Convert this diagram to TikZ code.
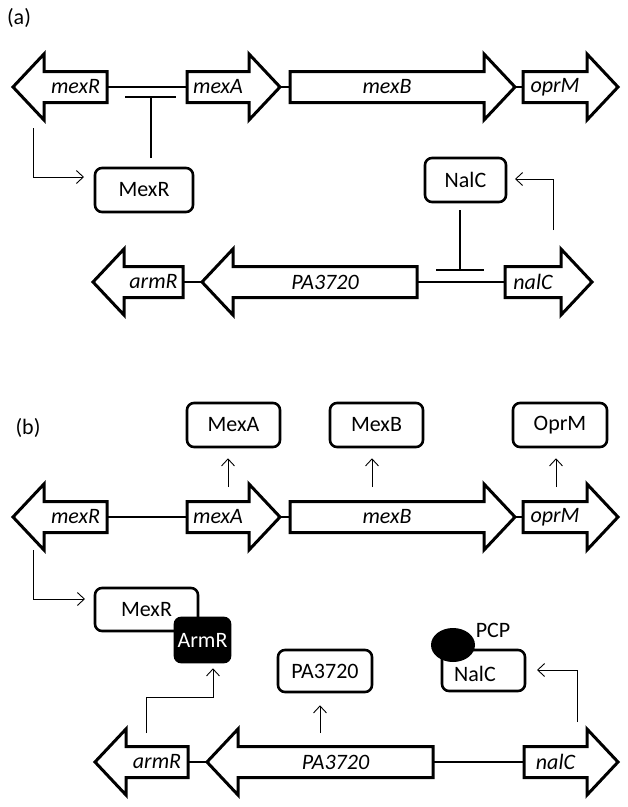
\documentclass[tikz,border=0pt]{standalone}
\usepackage{fontspec}
\setmainfont{Carlito}
\usetikzlibrary{arrows.meta}
\tikzset{
  gene/.style={line width=3pt, fill=white, line join=miter},
  genetext/.style={font=\fontsize{22}{26}\selectfont\itshape, inner sep=0pt},
  dna/.style={line width=2pt},
  prot/.style={draw, line width=2.6pt, rounded corners=7pt, font=\fontsize{22}{26}\selectfont, inner sep=0pt},
  plain/.style={font=\fontsize{22}{26}\selectfont, inner sep=0pt},
  conn/.style={line width=0.9pt, -{Straight Barb[length=7pt,width=13pt,line width=0.9pt]}},
  repr/.style={line width=2pt},
  panel/.style={font=\fontsize{22}{26}\selectfont, inner sep=0pt}
}
% right-pointing gene: name, base x, tip x, y, label
\newcommand\geneRt[5]{%
  \draw[gene] (#2,#4-15.5) -- (#3-31,#4-15.5) -- (#3-31,#4-33) -- (#3,#4) -- (#3-31,#4+33) -- (#3-31,#4+15.5) -- (#2,#4+15.5) -- cycle;
  \coordinate (#1-b) at (#2,#4);
  \coordinate (#1-t) at (#3,#4);
  \node[genetext] (#1) at ({(#2+#3-31)/2},#4) {#5};
}
% left-pointing gene: name, base x, tip x, y, label
\newcommand\geneLt[5]{%
  \draw[gene] (#2,#4-15.5) -- (#3+31,#4-15.5) -- (#3+31,#4-33) -- (#3,#4) -- (#3+31,#4+33) -- (#3+31,#4+15.5) -- (#2,#4+15.5) -- cycle;
  \coordinate (#1-b) at (#2,#4);
  \coordinate (#1-t) at (#3,#4);
  \node[genetext] (#1) at ({(#2+#3+31)/2},#4) {#5};
}
\begin{document}
\begin{tikzpicture}[x=1pt,y=-1pt]
\useasboundingbox (0,0) rectangle (628,807);

% ---------------- panel (a) ----------------
\node[panel] (la) at (19,18) {(a)};

\draw[dna] (107,87) -- (187,87);
\draw[dna] (280,87) -- (290,87);
\draw[dna] (515,87) -- (523,87);
\geneLt{amexR}{107}{13}{87}{mexR}
\geneRt{amexA}{187}{280}{87}{mexA}
\geneRt{amexB}{290}{515}{87}{mexB}
\geneRt{aoprM}{523}{618}{87}{oprM}

\node[prot, minimum width=98pt, minimum height=44pt] (aMexR) at (144,190) {MexR};
\node[prot, minimum width=81pt, minimum height=44pt] (aNalC) at (465.5,180) {NalC};

\draw[dna] (183,282) -- (202,282);
\draw[dna] (417,282) -- (505,282);
\geneLt{aarmR}{183}{93}{282}{armR}
\geneLt{aPA}{417}{202}{282}{PA3720}
\geneRt{analC}{505}{592}{282}{nalC}

% MexR represses mexR-mexA intergenic region
\coordinate (arepA) at (151,97);
\draw[repr] (151,158) -- (arepA);
\draw[repr] (125,97) -- (176,97);
% NalC represses intergenic region
\coordinate (arepB) at (460,270);
\draw[repr] (460,210) -- (arepB);
\draw[repr] (436,270) -- (484,270);

% expression arrows (a)
\coordinate (a1s) at (33,128);
\coordinate (a1e) at (84,177);
\draw[conn] (a1s) |- (a1e);
\coordinate (a2s) at (553,230);
\coordinate (a2e) at (515,179);
\draw[conn] (a2s) |- (a2e);

% ---------------- panel (b) ----------------
\node[panel] (lb) at (28,428) {(b)};

\draw[dna] (107,517) -- (187,517);
\draw[dna] (280,517) -- (290,517);
\draw[dna] (515,517) -- (523,517);
\geneLt{bmexR}{107}{13}{517}{mexR}
\geneRt{bmexA}{187}{280}{517}{mexA}
\geneRt{bmexB}{290}{515}{517}{mexB}
\geneRt{boprM}{523}{618}{517}{oprM}

\node[prot, minimum width=93pt, minimum height=44pt] (bMexA) at (233.5,425) {MexA};
\node[prot, minimum width=93pt, minimum height=44pt] (bMexB) at (376.5,425) {MexB};
\node[prot, minimum width=94pt, minimum height=44pt] (bOprM) at (560,425) {OprM};

\coordinate (b1s) at (228,487);
\coordinate (b2s) at (372,487);
\coordinate (b3s) at (556,487);
\draw[conn] (b1s) -- ([yshift=-10pt]bMexA.south -| b1s);
\draw[conn] (b2s) -- ([yshift=-10pt]bMexB.south -| b2s);
\draw[conn] (b3s) -- ([yshift=-10pt]bOprM.south -| b3s);

\draw[dna] (188,762) -- (207,762);
\draw[dna] (433,762) -- (524,762);
\geneLt{barmR}{188}{95}{762}{armR}
\geneLt{bPA}{433}{207}{762}{PA3720}
\geneRt{bnalC}{524}{618}{762}{nalC}

\node[prot, minimum width=103pt, minimum height=43pt] (bMexR) at (146.5,609.5) {MexR};
\node[prot, fill=black, text=white, minimum width=55pt, minimum height=44pt, rounded corners=6pt] (bArmR) at (202.5,640) {ArmR};

\node[prot, minimum width=94pt, minimum height=42pt] (bPA3720) at (325,671) {PA3720};

\node[prot, minimum width=83pt, minimum height=41pt] (bNalC) at (483.5,670.5) {};
\node[plain] (bNalCt) at (475,674) {NalC};
\fill (453,645) ellipse [x radius=22, y radius=17];
\node[plain] (pcp) at (493,630) {PCP};

% expression arrows (b)
\coordinate (b4s) at (33,550);
\coordinate (b4e) at (85,599);
\draw[conn] (b4s) |- (b4e);
\coordinate (b5s) at (146,733);
\coordinate (b5m) at (213,697);
\draw[conn] (b5s) |- (b5m) -- ([yshift=-5pt]bArmR.south -| b5m);
\coordinate (b6s) at (320,733);
\draw[conn] (b6s) -- ([yshift=-12pt]bPA3720.south -| b6s);
\coordinate (b7s) at (577,722);
\coordinate (b7e) at (537,670);
\draw[conn] (b7s) |- (b7e);
\end{tikzpicture}
\end{document}
